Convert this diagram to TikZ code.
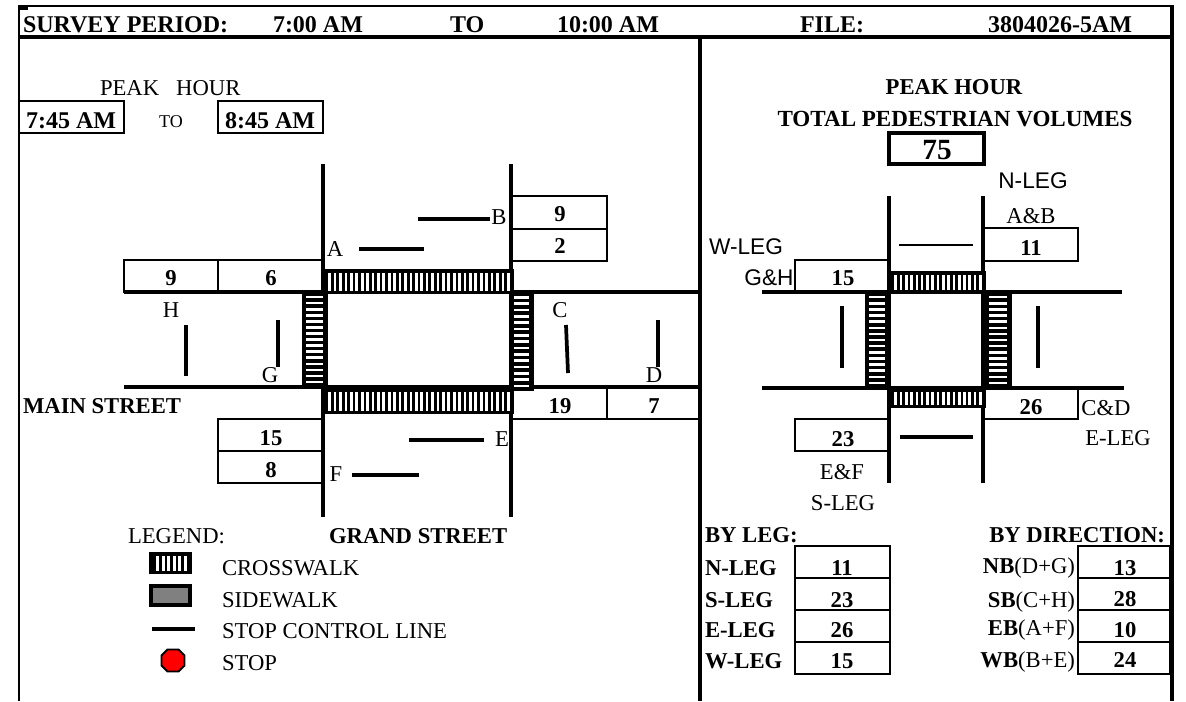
\documentclass[tikz,border=0pt]{standalone}
\usepackage{fontspec}
\setmainfont{Liberation Serif}
\setsansfont{Liberation Sans}
\tikzset{
  lab/.style={inner sep=0pt,outer sep=0pt,font=\fontsize{17}{19}\selectfont,anchor=base},
  labl/.style={lab,anchor=base west},
  labr/.style={lab,anchor=base east},
  val/.style={lab,font=\fontsize{17}{19}\selectfont\bfseries},
  vall/.style={val,anchor=base west},
  valr/.style={val,anchor=base east},
  head/.style={lab,anchor=base west,font=\fontsize{18}{20}\selectfont\bfseries},
  sans/.style={inner sep=0pt,outer sep=0pt,anchor=base,font=\fontsize{17}{19}\sffamily\selectfont},
  frame/.style={draw=black,line width=3pt},
  road/.style={draw=black,line width=3pt},
  cell/.style={draw=black,line width=1.5pt},
  stopline/.style={draw=black,line width=2.8pt},
  hourbox/.style={draw=black,line width=1.7pt},
}
% horizontal crosswalk: x1 x2 y1 y2 count  (vertical white bars)
\newcommand{\cwalkh}[5]{%
  \fill[black] (#1,#3) rectangle (#2,#4);
  \pgfmathsetmacro{\cwp}{(#2-#1-8)/#5}%
  \foreach \ci in {1,...,#5}{%
    \pgfmathsetmacro{\cwx}{#1+5+(\ci-1)*\cwp+0.25*\cwp}%
    \pgfmathsetmacro{\cwy}{\cwx+0.5*\cwp}%
    \fill[white] (\cwx,#3+4) rectangle (\cwy,#4-3);}}
% vertical crosswalk: x1 x2 y1 y2 count (horizontal white bars)
\newcommand{\cwalkv}[5]{%
  \fill[black] (#1,#3) rectangle (#2,#4);
  \pgfmathsetmacro{\cwp}{(#4-#3-4)/#5}%
  \foreach \ci in {1,...,#5}{%
    \pgfmathsetmacro{\cwx}{#3+2+(\ci-1)*\cwp+0.3*\cwp}%
    \pgfmathsetmacro{\cwy}{\cwx+0.42*\cwp}%
    \fill[white] (#1+4,\cwx) rectangle (#2-5,\cwy);}}
\begin{document}
\begin{tikzpicture}[x=0.75pt,y=-0.75pt]
\useasboundingbox (0,0) rectangle (1186,701);
\fill[white] (0,0) rectangle (1186,701);
% frame
\draw[draw=black,line width=1.6pt] (19,6) -- (1173,6);
\fill[black] (19,5) rectangle (28,10);
\draw[draw=black,line width=1.6pt] (19,5) -- (19,701);
\draw[frame] (19,37) -- (1173,37);
\draw[frame] (700,37) -- (700,701);
\draw[frame] (1172,5) -- (1172,701);
% header
\node[head] (t1) at (23,32) {SURVEY PERIOD:};
\node[head] (t2) at (273,32) {7:00 AM};
\node[head] (t3) at (450,32) {TO};
\node[head] (t4) at (557,32) {10:00 AM};
\node[head] (t5) at (800,32) {FILE:};
\node[head] (t6) at (988,32) {3804026-5AM};
% peak hour
\node[labl] (ph) at (100,95) {PEAK\ \ \ HOUR};
\draw[hourbox] (19,101) rectangle (124,133);
\draw[hourbox] (218,101) rectangle (323,133);
\node[val,font=\fontsize{18}{20}\selectfont\bfseries] (ph1) at (71,128) {7:45 AM};
\node[lab,font=\fontsize{13.5}{15}\selectfont] (phto) at (171,127) {TO};
\node[val,font=\fontsize{18}{20}\selectfont\bfseries] (ph2) at (270,128) {8:45 AM};
% main diagram: count cells
\draw[cell] (511,196) rectangle (607,229);
\draw[cell] (511,229) rectangle (607,261);
\draw[cell] (124,260) rectangle (218,292);
\draw[cell] (218,260) rectangle (323,292);
\draw[cell] (511,387) rectangle (607,419);
\draw[cell] (607,387) rectangle (699,419);
\draw[cell] (218,419) rectangle (323,451);
\draw[cell] (218,451) rectangle (323,483);
% main diagram: roads
\draw[road] (323,164) -- (323,517);
\draw[road] (511,164) -- (511,517);
\draw[road] (124,292) -- (699,292);
\draw[road] (124,387) -- (699,387);
% crosswalks
\cwalkv{302}{328}{292}{387}{15}
\cwalkv{510}{534}{292}{391}{15}
\cwalkh{322}{514}{269}{294}{34}
\cwalkh{322}{514}{388}{414}{34}
% stop lines
\draw[stopline] (418,219) -- (490,219);
\draw[stopline] (359,249) -- (424,249);
\draw[stopline] (186,325) -- (186,376);
\draw[stopline] (278,320) -- (278,367);
\draw[stopline] (566,325) -- (568,373);
\draw[stopline] (658,320) -- (658,367);
\draw[stopline] (409,440) -- (484,440);
\draw[stopline] (352,475) -- (419,475);
% labels
\node[lab] (la) at (335,256) {A};
\node[lab] (lb) at (499,224) {B};
\node[lab] (lc) at (560,317) {C};
\node[lab] (ld) at (654,382) {D};
\node[lab] (le) at (502,446) {E};
\node[lab] (lf) at (336,481) {F};
\node[lab] (lg) at (270,382) {G};
\node[lab] (lh) at (171,317) {H};
% values
\node[val] (v1) at (560,221) {9};
\node[val] (v2) at (560,253) {2};
\node[val] (v3) at (171,285) {9};
\node[val] (v4) at (271,285) {6};
\node[val] (v5) at (560,413) {19};
\node[val] (v6) at (654,413) {7};
\node[val] (v7) at (271,445) {15};
\node[val] (v8) at (271,477) {8};
\node[vall] (ms) at (23,413) {MAIN STREET};
\node[vall] (gs) at (329,543) {GRAND STREET};
% legend
\node[labl] (lg0) at (128,543) {LEGEND:};
\fill[black] (149,552) rectangle (192,574);
\foreach \cx in {0,...,5}{\fill[white] (155+5.5*\cx+1,556) rectangle (155+5.5*\cx+4,571);}
\draw[draw=black,line width=3.3pt,fill=gray] (151.2,586.2) rectangle (189.8,604.8);
\draw[stopline] (152,629) -- (195,629);
\draw[draw=black,line width=1.4pt,fill=red] (167.5,649.5) -- (178.5,649.5) -- (184.5,655.5) -- (184.5,665.5) -- (178.5,671.5) -- (167.5,671.5) -- (161.5,665.5) -- (161.5,655.5) -- cycle;
\node[labl] (lg1) at (222,575) {CROSSWALK};
\node[labl] (lg2) at (222,607) {SIDEWALK};
\node[labl] (lg3) at (222,638) {STOP CONTROL LINE};
\node[labl] (lg4) at (222,670) {STOP};
% right panel heading
\node[val] (r1) at (954,94) {PEAK HOUR};
\node[val,font=\fontsize{17.3}{19}\selectfont\bfseries] (r2) at (955,126) {TOTAL PEDESTRIAN VOLUMES};
\draw[draw=black,line width=3pt] (888.5,132.5) rectangle (984,164);
\node[lab,font=\fontsize{22}{24}\selectfont\bfseries] (r3) at (937,159) {75};
% right diagram cells
\draw[cell] (983,228) rectangle (1078,261);
\draw[cell] (795,260) rectangle (889,291);
\draw[cell] (983,388) rectangle (1078,419);
\draw[cell] (795,419) rectangle (889,451);
% right diagram roads
\draw[road] (889,196) -- (889,483);
\draw[road] (983,196) -- (983,483);
\draw[road] (762,292) -- (1122,292);
\draw[road] (762,388) -- (1124,388);
\cwalkv{865}{890}{292}{388}{15}
\cwalkv{985}{1012}{292}{388}{15}
\cwalkh{888}{986}{271}{293}{17}
\cwalkh{888}{986}{388}{408}{17}
\draw[draw=black,line width=0.9pt] (899,245) -- (973,245);
\draw[stopline] (900,437) -- (973,437);
\draw[stopline] (842,306) -- (842,368);
\draw[stopline] (1038,306) -- (1038,368);
\node[sans] (n1) at (1033,188) {N-LEG};
\node[lab] (n2) at (1031,223) {A\&B};
\node[sans] (n3) at (746,254) {W-LEG};
\node[sans] (n4) at (769,285) {G\&H};
\node[val] (n5) at (1031,255) {11};
\node[val] (n6) at (843,285) {15};
\node[val] (n7) at (1031,414) {26};
\node[val] (n8) at (843,446) {23};
\node[lab] (n9) at (1106,415) {C\&D};
\node[lab] (n10) at (1118,445) {E-LEG};
\node[lab] (n11) at (842,479) {E\&F};
\node[lab] (n12) at (843,510) {S-LEG};
% tables
\node[vall] (a0) at (705,542) {BY LEG:};
\node[valr] (b0) at (1165,542) {BY DIRECTION:};
\foreach \ya/\yb in {546/578,578/610,610/642,642/674}{
  \draw[cell] (795,\ya) rectangle (890,\yb);
  \draw[cell] (1078,\ya) rectangle (1170,\yb);
}
\node[vall] (a1) at (705,575) {N-LEG};
\node[vall] (a2) at (705,607) {S-LEG};
\node[vall] (a3) at (705,637) {E-LEG};
\node[vall] (a4) at (705,668) {W-LEG};
\node[val] (a5) at (842,575) {11};
\node[val] (a6) at (842,607) {23};
\node[val] (a7) at (842,637) {26};
\node[val] (a8) at (842,668) {15};
\node[labr] (b1) at (1075,573) {\textbf{NB}(D+G)};
\node[labr] (b2) at (1075,607) {\textbf{SB}(C+H)};
\node[labr] (b3) at (1075,635) {\textbf{EB}(A+F)};
\node[labr] (b4) at (1075,667) {\textbf{WB}(B+E)};
\node[val] (b5) at (1125,575) {13};
\node[val] (b6) at (1125,606) {28};
\node[val] (b7) at (1125,637) {10};
\node[val] (b8) at (1125,667) {24};
\end{tikzpicture}
\end{document}
